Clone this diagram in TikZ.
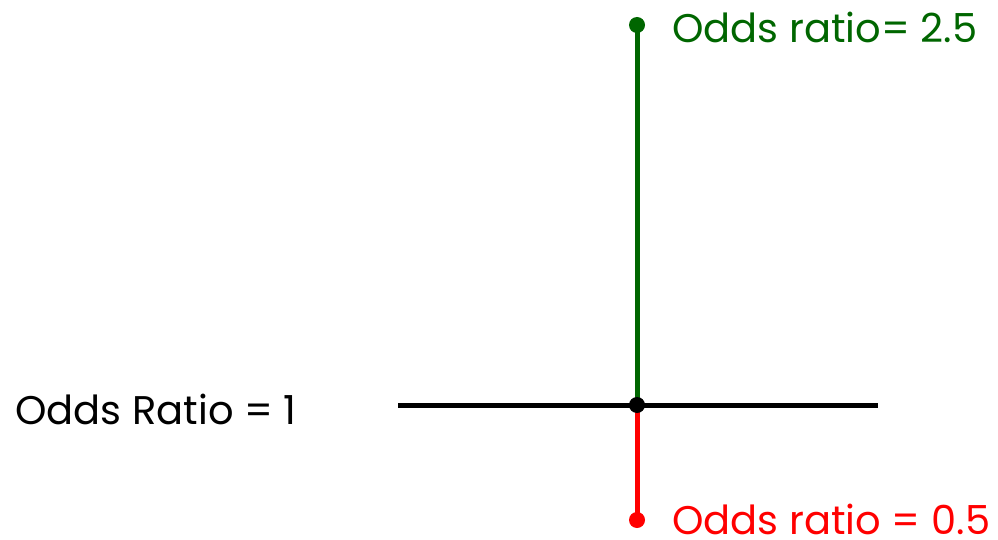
\documentclass[tikz,border=0pt]{standalone}
\usepackage{fontspec}
\setmainfont{Poppins}
\definecolor{dgreen}{RGB}{0,102,0}
\definecolor{bred}{RGB}{255,0,0}
\begin{document}
\begin{tikzpicture}[x=1pt,y=-1pt,
  lbl/.style={anchor=base west,inner sep=0pt,text depth=0pt,font=\fontsize{40}{42}\selectfont},
  dotnode/.style={circle,inner sep=0pt,minimum size=16pt},
  bar/.style={line width=5pt}]
\useasboundingbox (0,0) rectangle (998,540);
\coordinate (hl) at (398,405);
\coordinate (hr) at (878,405);
\node[dotnode,fill=dgreen] (top) at (637,25) {};
\node[dotnode,fill=bred] (bot) at (637,520) {};
\coordinate (mid) at (637,405);
\draw[bar,dgreen] (top.center) -- (mid);
\draw[bar,bred] (mid) -- (bot.center);
\draw[bar,black] (hl) -- (hr);
\node[dotnode,fill=black] (c) at (mid) {};
\node[lbl,text=dgreen] (t1) at (672,43) {Odds ratio= 2.5};
\node[lbl,text=black] (t2) at (15,424) {Odds Ratio = 1};
\node[lbl,text=bred] (t3) at (672,534) {Odds ratio = 0.5};
\end{tikzpicture}
\end{document}
